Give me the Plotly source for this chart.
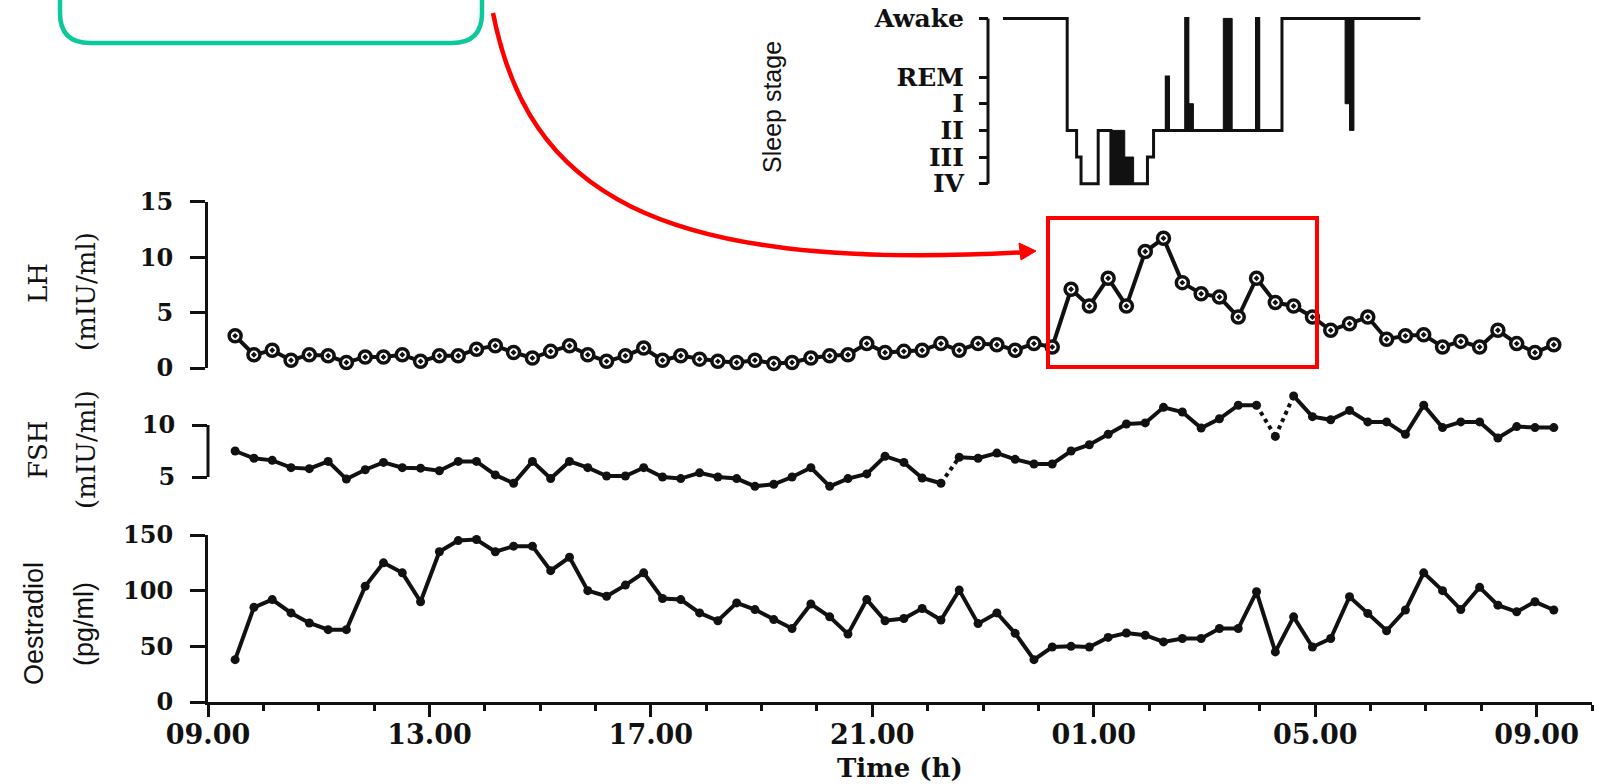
import plotly.graph_objects as go

# ---------------- data ----------------
# sampling instants (hours since 00:00 of day 1; 24+ = next day)
sample_hours = [
    9.49, 9.83, 10.16, 10.50, 10.83, 11.17, 11.50, 11.84, 12.17, 12.51, 12.84, 13.18,
    13.52, 13.85, 14.19, 14.52, 14.86, 15.19, 15.53, 15.86, 16.20, 16.54, 16.87, 17.21,
    17.54, 17.88, 18.21, 18.55, 18.88, 19.22, 19.55, 19.89, 20.23, 20.56, 20.90, 21.23,
    21.57, 21.90, 22.24, 22.57, 22.91, 23.25, 23.58, 23.92, 24.25, 24.59, 24.92, 25.26,
    25.59, 25.93, 26.26, 26.60, 26.94, 27.27, 27.61, 27.94, 28.28, 28.61, 28.95, 29.28,
    29.62, 29.95, 30.29, 30.63, 30.96, 31.30, 31.63, 31.97, 32.30, 32.64, 32.97, 33.31,
]

lh = [
    2.9, 1.2, 1.6, 0.7, 1.2, 1.1, 0.5, 1.0, 1.0, 1.2, 0.6, 1.1, 1.1, 1.7, 2.0, 1.4,
    0.9, 1.5, 2.0, 1.2, 0.6, 1.1, 1.8, 0.7, 1.1, 0.8, 0.6, 0.5, 0.7, 0.4, 0.5,
    0.9, 1.1, 1.2, 2.2, 1.4, 1.5, 1.6, 2.2, 1.6, 2.2, 2.1, 1.6, 2.2, 1.9,
    7.1, 5.6, 8.1, 5.6, 10.5, 11.7, 7.7, 6.7, 6.4, 4.6, 8.1, 5.9, 5.6, 4.6,
    3.4, 4.0, 4.6, 2.6, 2.9, 3.0, 1.9, 2.4, 1.9, 3.4, 2.2, 1.4, 2.1,
]

fsh = [
    7.5, 6.8, 6.6, 5.9, 5.8, 6.5, 4.8, 5.7, 6.4, 5.9, 5.85, 5.6, 6.5, 6.5, 5.2, 4.4,
    6.5, 4.85, 6.5, 5.9, 5.1, 5.1, 5.9, 5.0, 4.85, 5.4, 5.0, 4.85, 4.1, 4.3, 5.0,
    5.9, 4.1, 4.85, 5.3, 7.0, 6.4, 4.9, 4.4, 6.9, 6.8, 7.3, 6.7, 6.25, 6.25,
    7.5, 8.1, 9.1, 10.1, 10.2, 11.7, 11.25, 9.7, 10.6, 11.9, 11.9, 8.9, 12.8,
    10.8, 10.5, 11.4, 10.3, 10.3, 9.1, 11.9, 9.75, 10.3, 10.3, 8.75, 9.85, 9.75, 9.75,
]
# FSH links drawn dotted in the original (index of the earlier sample)
fsh_dotted_after = [38, 55, 56]

oestradiol = [
    38, 85, 92, 80, 71, 65, 65, 104, 125, 116, 90, 135, 145, 146, 135, 140,
    140, 118, 130, 100, 95, 105, 116, 93, 92, 80, 73, 89, 83, 74, 66,
    88, 76.5, 61, 92, 73, 75, 84, 73.6, 100.5, 70.4, 80, 61.7, 38, 49.4, 50,
    49.4, 58, 62, 60, 54, 57, 57, 66, 66, 99, 45, 76.5, 49.4, 57, 94.5, 79.6,
    64, 82.6, 116, 100, 83, 103, 87, 81, 90, 82.6,
]

x_tick_vals = [9, 13, 17, 21, 25, 29, 33]
x_tick_text = ["09.00", "13.00", "17.00", "21.00", "01.00", "05.00", "09.00"]

stage_names = ["IV", "III", "II", "I", "REM", "Awake"]
stage_levels = [0, 1, 2, 3, 4, 6.2]

# hypnogram (hours since 00:00 of day 1), step changes
sleep_hours = [23.36, 24.52, 24.69, 24.77, 25.08, 25.31, 25.97, 26.08, 26.31, 26.35,
               26.66, 26.70, 27.94, 27.98, 28.40, 30.90]
sleep_stages = ["Awake", "II", "III", "IV", "II", "IV", "III", "II", "REM", "II",
                "Awake", "II", "Awake", "II", "Awake", "Awake"]
# dense (black) stage-switching blocks
block_start = [25.31, 25.56, 26.70, 27.34, 29.54, 29.62]
block_end = [25.56, 25.72, 26.80, 27.50, 29.62, 29.70]
block_low = ["IV", "IV", "II", "II", "I", "II"]
block_high = ["II", "III", "I", "Awake", "Awake", "Awake"]

# ---------------- helpers ----------------
t = sample_hours
lvl = dict(zip(stage_names, stage_levels))

W, H = 1600, 784
L, R, T, B = 208, 8, 10, 82
PW, PH = W - L - R, H - T - B

def px(x):
    return (x - L) / PW

def py(y):
    return (H - B - y) / PH

INK = "#111111"
SERIF = "DejaVu Serif"
SANS = "Liberation Sans"

fig = go.Figure()

fig.add_trace(go.Scatter(
    x=t, y=oestradiol, xaxis="x", yaxis="y", mode="lines+markers",
    line=dict(color=INK, width=4), marker=dict(size=9, color=INK),
    cliponaxis=False, showlegend=False, hoverinfo="skip"))

# FSH: solid line with breaks where the original is dotted
sx, sy, dx, dy = [], [], [], []
for i, (ti, vi) in enumerate(zip(t, fsh)):
    sx.append(ti)
    sy.append(vi)
    if i in fsh_dotted_after and i + 1 < len(t):
        sx.append(None)
        sy.append(None)
        dx += [ti, t[i + 1], None]
        dy += [vi, fsh[i + 1], None]
fig.add_trace(go.Scatter(
    x=dx, y=dy, xaxis="x", yaxis="y2", mode="lines",
    line=dict(color=INK, width=4, dash="dot"),
    showlegend=False, hoverinfo="skip"))
fig.add_trace(go.Scatter(
    x=sx, y=sy, xaxis="x", yaxis="y2", mode="lines",
    line=dict(color=INK, width=4), connectgaps=False,
    showlegend=False, hoverinfo="skip"))
fig.add_trace(go.Scatter(
    x=t, y=fsh, xaxis="x", yaxis="y2", mode="markers",
    marker=dict(size=9, color=INK),
    cliponaxis=False, showlegend=False, hoverinfo="skip"))

fig.add_trace(go.Scatter(
    x=t, y=lh, xaxis="x", yaxis="y3", mode="lines+markers",
    line=dict(color=INK, width=4),
    marker=dict(size=12, color="white", symbol="circle-dot",
                line=dict(color=INK, width=3.5)),
    cliponaxis=False, showlegend=False, hoverinfo="skip"))

fig.add_trace(go.Scatter(
    x=sleep_hours, y=[lvl[s] for s in sleep_stages], xaxis="x", yaxis="y4",
    mode="lines", line=dict(color=INK, width=3, shape="hv"),
    cliponaxis=False, showlegend=False, hoverinfo="skip"))

bx, by = [], []
for a, b, lo, hi in zip(block_start, block_end, block_low, block_high):
    bx += [a, b, b, a, a, None]
    by += [lvl[lo], lvl[lo], lvl[hi], lvl[hi], lvl[lo], None]
fig.add_trace(go.Scatter(
    x=bx, y=by, xaxis="x", yaxis="y4", mode="lines", fill="toself",
    fillcolor=INK, line=dict(color=INK, width=1),
    showlegend=False, hoverinfo="skip"))

tickfont = dict(family=SERIF, size=24, color=INK, weight="bold")
common_y = dict(showgrid=False, zeroline=False, ticks="outside", ticklen=15,
                tickwidth=3, tickcolor=INK, tickfont=tickfont, automargin=False,
                ticklabelstandoff=12, linecolor=INK, linewidth=3, fixedrange=True)

# pixel calibration of each panel
e2_dom = [py(702), py(535)]
fsh_px_per = (477 - 425) / 5.0
fsh_range = [3, 13.5]
fsh_dom = [py(477 + (5 - fsh_range[0]) * fsh_px_per),
           py(425 - (fsh_range[1] - 10) * fsh_px_per)]
lh_dom = [py(368), py(201.7)]
sl_px_per = (183.7 - 18.4) / 6.2
sl_range = [-0.15, 6.35]
sl_dom = [py(183.7 + 0.15 * sl_px_per), py(18.4 - 0.15 * sl_px_per)]
sleep_axis_x = px(988)

fig.update_layout(
    width=W, height=H, autosize=False,
    margin=dict(l=L, r=R, t=T, b=B, autoexpand=False),
    paper_bgcolor="white", plot_bgcolor="rgba(0,0,0,0)",
    showlegend=False,
    xaxis=dict(domain=[0, 1], anchor="y", range=[9, 34], showgrid=False,
               zeroline=False, showline=True, linecolor=INK, linewidth=3,
               tickvals=x_tick_vals, ticktext=x_tick_text, ticks="outside",
               ticklen=12, tickwidth=3, tickcolor=INK, ticklabelstandoff=-5,
               tickfont=dict(family=SERIF, size=27, color=INK, weight="bold"),
               minor=dict(tick0=9, dtick=1, ticks="outside", ticklen=6,
                          tickwidth=3, tickcolor=INK),
               automargin=False, fixedrange=True),
    yaxis=dict(domain=e2_dom, anchor="x", range=[0, 150],
               tickvals=[0, 50, 100, 150], showline=True, **common_y),
    yaxis2=dict(domain=fsh_dom, anchor="x", range=fsh_range,
                tickvals=[5, 10], showline=False, **common_y),
    yaxis3=dict(domain=lh_dom, anchor="x", range=[0, 15],
                tickvals=[0, 5, 10, 15], showline=True, **common_y),
    yaxis4=dict(domain=sl_dom, anchor="free", position=sleep_axis_x,
                range=sl_range, tickvals=stage_levels, ticktext=stage_names,
                showline=False, showgrid=False, zeroline=False, ticks="outside",
                ticklen=9, tickwidth=3, tickcolor=INK,
                tickfont=dict(family=SERIF, size=25, color=INK, weight="bold"),
                ticklabelstandoff=10, automargin=False, fixedrange=True),
)

shapes = []
# bracket lines drawn on data scales
shapes.append(dict(type="line", xref="paper", yref="y2", x0=0, x1=0, y0=5, y1=10,
                   line=dict(color=INK, width=3)))
shapes.append(dict(type="line", xref="paper", yref="y4", x0=sleep_axis_x,
                   x1=sleep_axis_x, y0=0, y1=6.2, line=dict(color=INK, width=3)))

# green rounded box (partially off the top)
gl, gr, gt, gb, rr = 60, 482, -40, 43, 30
gpath = (f"M {px(gl)},{py(gt)} L {px(gl)},{py(gb - rr)} "
         f"Q {px(gl)},{py(gb)} {px(gl + rr)},{py(gb)} "
         f"L {px(gr - rr)},{py(gb)} Q {px(gr)},{py(gb)} {px(gr)},{py(gb - rr)} "
         f"L {px(gr)},{py(gt)} Z")
shapes.append(dict(type="path", xref="paper", yref="paper", path=gpath,
                   line=dict(color="#0BC99A", width=4.5), layer="above"))

# red curved arrow
p0, p1, p2, p3 = (493, 13), (528, 190), (650, 272), (1020, 252.5)
cpath = (f"M {px(p0[0])},{py(p0[1])} C {px(p1[0])},{py(p1[1])} "
         f"{px(p2[0])},{py(p2[1])} {px(p3[0])},{py(p3[1])}")
shapes.append(dict(type="path", xref="paper", yref="paper", path=cpath,
                   line=dict(color="#FF0000", width=4.5), layer="above"))
tip = (1036, 251)
hpath = (f"M {px(tip[0])},{py(tip[1])} L {px(1019)},{py(243)} "
         f"L {px(1021)},{py(260)} Z")
shapes.append(dict(type="path", xref="paper", yref="paper", path=hpath,
                   fillcolor="#FF0000", line=dict(color="#FF0000", width=1),
                   layer="above"))

# red highlight box
shapes.append(dict(type="rect", xref="paper", yref="paper",
                   x0=px(1048), x1=px(1317), y0=py(367), y1=py(218),
                   line=dict(color="#FF0000", width=4), layer="above"))
fig.update_layout(shapes=shapes)

ann = []
def add_text(text, x, y, family, size, angle=-90, weight="normal"):
    ann.append(dict(text=text, x=px(x), y=py(y), xref="paper", yref="paper",
                    showarrow=False, textangle=angle, xanchor="center",
                    yanchor="middle",
                    font=dict(family=family, size=size, color=INK, weight=weight)))

add_text("Sleep stage", 772, 107, SANS, 25)
add_text("LH", 38, 283, SERIF, 26)
add_text("(mIU/ml)", 86, 292, SERIF, 26)
add_text("FSH", 38, 450, SERIF, 26)
add_text("(mIU/ml)", 86, 450, SERIF, 26)
add_text("Oestradiol", 34, 624, SANS, 27)
add_text("(pg/ml)", 84, 624, SANS, 27)
add_text("Time (h)", 900, 768, SERIF, 26, angle=0, weight="bold")
fig.update_layout(annotations=ann)

fig.write_html("out.html",
               config={"displayModeBar": False},
               post_script="document.body.style.margin='0';document.body.style.overflow='hidden';")
